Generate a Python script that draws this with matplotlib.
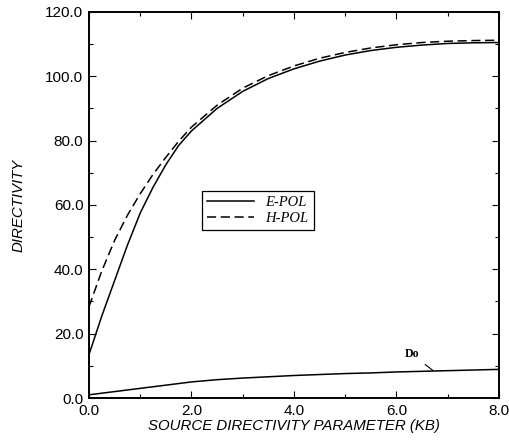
import matplotlib
matplotlib.use('Agg')
import matplotlib.pyplot as plt
from matplotlib.ticker import MultipleLocator, FormatStrFormatter

# values
kb = [0.0, 0.25, 0.5, 0.75, 1.0, 1.25, 1.5, 1.75, 2.0, 2.5, 3.0, 3.5,
      4.0, 4.5, 5.0, 5.5, 6.0, 6.5, 7.0, 7.5, 8.0]
e_pol = [13.5, 25.5, 36.5, 47.5, 57.5, 65.5, 72.5, 78.5, 83.0, 90.0, 95.3, 99.3,
         102.3, 104.7, 106.6, 108.0, 109.0, 109.7, 110.2, 110.4, 110.5]
h_pol = [28.4, 39.5, 49.0, 56.8, 63.5, 69.5, 74.8, 79.8, 84.2, 91.0, 96.3, 100.2,
         103.2, 105.6, 107.4, 108.8, 109.8, 110.5, 110.9, 111.1, 111.2]
do_kb = [0.0, 0.5, 1.0, 1.5, 2.0, 2.5, 3.0, 3.5, 4.0, 4.5, 5.0, 5.5, 6.0,
         6.5, 7.0, 7.5, 8.0]
do_val = [1.0, 2.0, 3.0, 4.0, 5.0, 5.7, 6.2, 6.6, 7.0, 7.3, 7.6, 7.8, 8.1,
          8.3, 8.5, 8.7, 8.9]

fig = plt.figure(figsize=(5.1, 4.42), dpi=100)
ax = fig.add_axes([0.1745, 0.0995, 0.8035, 0.8735])

ax.plot(kb, e_pol, 'k-', lw=1.1, label='E-POL')
ax.plot(kb, h_pol, 'k--', lw=1.1, dashes=(6, 3), label='H-POL')
ax.plot(do_kb, do_val, 'k-', lw=1.1)

ax.annotate('Do', xy=(6.72, 8.5), xytext=(6.3, 13.6), ha='center', va='center',
            fontsize=8.5, fontweight='bold', family='Liberation Serif',
            arrowprops=dict(arrowstyle='-', color='k', lw=0.8,
                            shrinkA=3, shrinkB=0))

ax.set_xlim(0, 8)
ax.set_ylim(0, 120)
ax.xaxis.set_major_locator(MultipleLocator(2))
ax.xaxis.set_minor_locator(MultipleLocator(1))
ax.yaxis.set_major_locator(MultipleLocator(20))
ax.yaxis.set_minor_locator(MultipleLocator(10))
ax.xaxis.set_major_formatter(FormatStrFormatter('%.1f'))
ax.yaxis.set_major_formatter(FormatStrFormatter('%.1f'))
ax.tick_params(which='both', direction='in', top=True, right=True,
               labelsize=11, width=0.8)
ax.tick_params(which='major', length=5, pad=4)
ax.tick_params(which='minor', length=3)
for lab in ax.get_xticklabels() + ax.get_yticklabels():
    lab.set_family('Liberation Sans')
for sp in ax.spines.values():
    sp.set_linewidth(1.4)

ax.set_xlabel('SOURCE DIRECTIVITY PARAMETER (KB)', fontsize=10.8,
              style='italic', family='Liberation Sans', labelpad=1)
ax.set_ylabel('DIRECTIVITY', fontsize=10.8, style='italic',
              family='Liberation Sans', labelpad=14)

leg = ax.legend(loc='upper left', bbox_to_anchor=(0.258, 0.556),
                prop={'family': 'Liberation Serif', 'style': 'italic', 'size': 10.5},
                fancybox=False, edgecolor='k', framealpha=1,
                handlelength=3.2, borderpad=0.35, labelspacing=0.2,
                handletextpad=0.8)
leg.get_frame().set_linewidth(0.9)

fig.savefig('out.png', dpi=100)
